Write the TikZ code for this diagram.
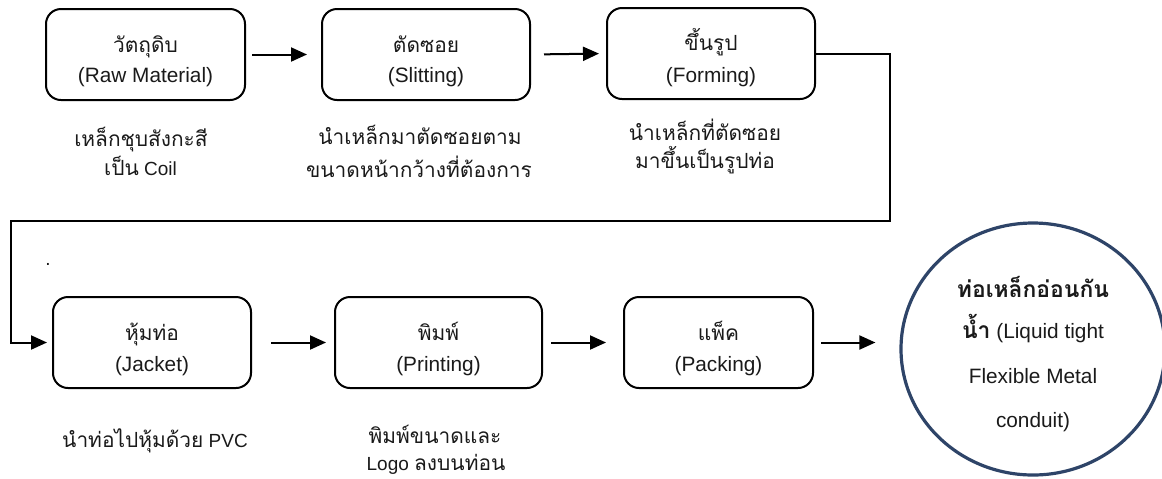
\documentclass[tikz,border=0pt]{standalone}
\usepackage{fontspec}
\setmainfont{Liberation Sans}
\newfontfamily\thfont[Script=Thai,Scale=1.1]{Loma}
\usetikzlibrary{arrows.meta,shapes.geometric}
\newcommand{\thx}[1]{{\thfont #1}}
\definecolor{navy}{HTML}{2E4468}
\definecolor{ink}{HTML}{1A1A1A}
\tikzset{
  box/.style={draw=black, line width=1pt, rounded corners=7.5pt, inner sep=0pt, minimum height=45.5pt},
  arr/.style={draw=black, line width=1pt, -{Triangle[length=8pt,width=7pt]}},
  txt/.style={anchor=base, inner sep=0pt, text=ink, font=\fontsize{9.5}{11}\selectfont},
  etxt/.style={anchor=base, inner sep=0pt, text=ink, font=\fontsize{10.4}{12}\selectfont},
  ctxt/.style={anchor=base, inner sep=0pt, text=ink, font=\fontsize{10.4}{12}\selectfont},
}
\begin{document}
\begin{tikzpicture}[x=0.5pt,y=-0.5pt]
\useasboundingbox (0,0) rectangle (1162,478);
% boxes
\node[box, minimum width=99.5pt] (b1) at (145.5,54.5) {};
\node[box, minimum width=104pt] (b2) at (426,54.5) {};
\node[box, minimum width=104pt] (b3) at (711,53.5) {};
\node[box, minimum width=99pt] (b4) at (152,342.5) {};
\node[box, minimum width=103.5pt] (b5) at (438.5,342.5) {};
\node[box, minimum width=94.5pt] (b6) at (718.5,342.5) {};
\node[draw=navy, line width=1.6pt, ellipse, inner sep=0pt, minimum width=132pt, minimum height=126pt] (c) at (1033,349) {};
% box texts
\node[txt] (b1t) at (145.5,52.7) {\thx{วัตถุดิบ}};
\node[etxt] (b1e) at (145.5,82.7) {(Raw Material)};
\node[txt] (b2t) at (426,52.7) {\thx{ตัดซอย}};
\node[etxt] (b2e) at (426,82.7) {(Slitting)};
\node[txt] (b3t) at (711,50.5) {\thx{ขึ้นรูป}};
\node[etxt] (b3e) at (711,82.5) {(Forming)};
\node[txt] (b4t) at (152,340) {\thx{หุ้มท่อ}};
\node[etxt] (b4e) at (152,371) {(Jacket)};
\node[txt] (b5t) at (438.5,340) {\thx{พิมพ์}};
\node[etxt] (b5e) at (438.5,371) {(Printing)};
\node[txt] (b6t) at (718.5,340) {\thx{แพ็ค}};
\node[etxt] (b6e) at (718.5,371) {(Packing)};
% descriptions
\node[txt] (d1a) at (141,146.5) {\thx{เหล็กชุบสังกะสี}};
\node[txt] (d1b) at (140.5,175) {\thx{เป็น} Coil};
\node[txt] (d2a) at (420,144) {\thx{นำเหล็กมาตัดซอยตาม}};
\node[txt] (d2b) at (419,177) {\thx{ขนาดหน้ากว้างที่ต้องการ}};
\node[txt] (d3a) at (705,140) {\thx{นำเหล็กที่ตัดซอย}};
\node[txt] (d3b) at (705,168) {\thx{มาขึ้นเป็นรูปท่อ}};
\node[txt] (d4) at (155,447) {\thx{นำท่อไปหุ้มด้วย} PVC};
\node[txt] (d5a) at (435,443) {\thx{พิมพ์ขนาดและ}};
\node[txt] (d5b) at (436,470) {Logo \thx{ลงบนท่อน}};
\node[txt] (dot) at (48,265) {.};
% circle text
\node[ctxt] (c1) at (1033,297) {\thx{\bfseries ท่อเหล็กอ่อนกัน}};
\node[ctxt] (c2) at (1033,338) {\thx{\bfseries น้ำ} (Liquid tight};
\node[ctxt] (c3) at (1033,383) {Flexible Metal};
\node[ctxt] (c4) at (1033,427) {conduit)};
% connectors
\coordinate (t1) at (890,53.5);
\coordinate (t2) at (11,221);
\draw[arr, shorten <=3pt, shorten >=7pt] (b1.east) -- (b2.west);
\draw[arr, shorten <=6.5pt, shorten >=3.5pt] (b2.east) -- (b3.west);
\draw[arr, shorten >=2.5pt] (b3.east) -- (t1) |- (t2) |- (b4.west);
\draw[arr, shorten <=9.5pt, shorten >=4pt] (b4.east) -- (b5.west);
\draw[arr, shorten <=4pt, shorten >=8.5pt] (b5.east) -- (b6.west);
\draw[arr, shorten <=3.5pt, shorten >=12pt] (b6.east) -- (b6.east -| c.west);
\end{tikzpicture}
\end{document}
